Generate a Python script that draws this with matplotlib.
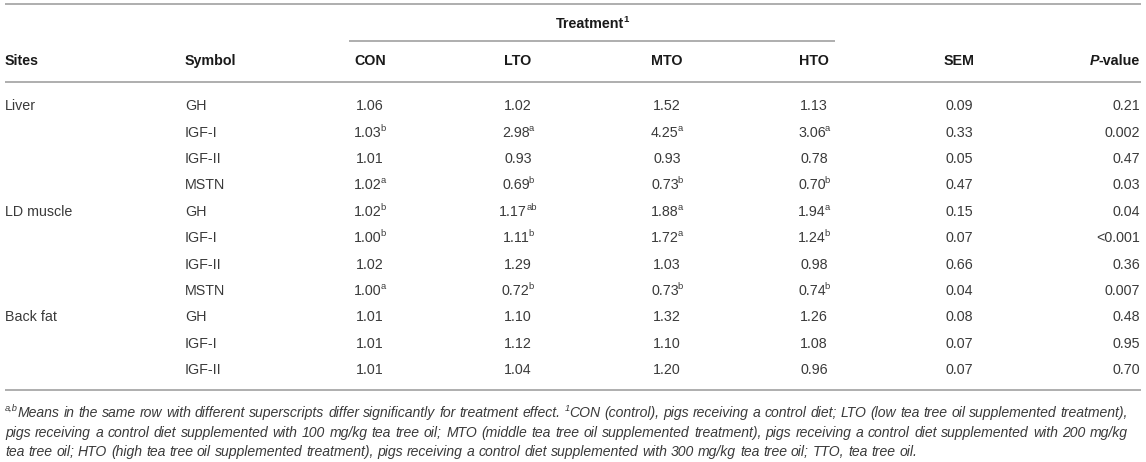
import matplotlib
matplotlib.use('Agg')
import matplotlib.pyplot as plt

# ---------------- data ----------------
sites = ["Liver", "", "", "", "LD muscle", "", "", "", "Back fat", "", ""]
symbols = ["GH", "IGF-I", "IGF-II", "MSTN", "GH", "IGF-I", "IGF-II", "MSTN", "GH", "IGF-I", "IGF-II"]
treatments = ["CON", "LTO", "MTO", "HTO"]
con = [1.06, 1.03, 1.01, 1.02, 1.02, 1.00, 1.02, 1.00, 1.01, 1.01, 1.01]
con_sup = ["", "b", "", "a", "b", "b", "", "a", "", "", ""]
lto = [1.02, 2.98, 0.93, 0.69, 1.17, 1.11, 1.29, 0.72, 1.10, 1.12, 1.04]
lto_sup = ["", "a", "", "b", "ab", "b", "", "b", "", "", ""]
mto = [1.52, 4.25, 0.93, 0.73, 1.88, 1.72, 1.03, 0.73, 1.32, 1.10, 1.20]
mto_sup = ["", "a", "", "b", "a", "a", "", "b", "", "", ""]
hto = [1.13, 3.06, 0.78, 0.70, 1.94, 1.24, 0.98, 0.74, 1.26, 1.08, 0.96]
hto_sup = ["", "a", "", "b", "a", "b", "", "b", "", "", ""]
sem = [0.09, 0.33, 0.05, 0.47, 0.15, 0.07, 0.66, 0.04, 0.08, 0.07, 0.07]
p_values = ["0.21", "0.002", "0.47", "0.03", "0.04", "<0.001", "0.36", "0.007", "0.48", "0.95", "0.70"]

footnote_lines = [
    [("a,b", "Means"), ("", "in"), ("", "the"), ("", "same"), ("", "row"), ("", "with"), ("", "different"),
     ("", "superscripts"), ("", "differ"), ("", "significantly"), ("", "for"), ("", "treatment"),
     ("", "effect."), ("1", "CON"), ("", "(control),"), ("", "pigs"), ("", "receiving"), ("", "a"),
     ("", "control"), ("", "diet;"), ("", "LTO"), ("", "(low"), ("", "tea"), ("", "tree"), ("", "oil"),
     ("", "supplemented"), ("", "treatment),")],
    "pigs receiving a control diet supplemented with 100 mg/kg tea tree oil; MTO (middle tea tree oil "
    "supplemented treatment), pigs receiving a control diet supplemented with 200 mg/kg",
    "tea tree oil; HTO (high tea tree oil supplemented treatment), pigs receiving a control diet "
    "supplemented with 300 mg/kg tea tree oil; TTO, tea tree oil.",
]

# ---------------- layout ----------------
W, H = 1146, 462
fig = plt.figure(figsize=(W / 100, H / 100), dpi=100)
ax = fig.add_axes([0, 0, 1, 1])
ax.set_xlim(0, W)
ax.set_ylim(H, 0)
ax.axis('off')
renderer = fig.canvas.get_renderer()

FONT = 'Liberation Sans'
PX = 72 / 100.0
MAIN = 14.3 * PX
FOOT = 14.0 * PX
BODY_C = '#3a3a3a'
HEAD_C = '#1a1a1a'
LINE_C = '#a8a8a8'

x_site = 5
x_sym = 185
x_cols = [370, 518, 667, 814]
x_sem = 959
x_p = 1140

y_top = 4
y_treat = 23
y_short = 41
y_head = 60
y_hline = 82
y_row0 = 105
row_h = 26.4
y_bottom = 390
y_foot = [412, 432, 451]


def width_of(t):
    return t.get_window_extent(renderer).width


def rich(x, y, parts, ha='center', size=MAIN, color=BODY_C, weight='normal', style='normal'):
    """parts: list of (text, is_sup, style)"""
    objs = []
    for txt, sup, st in parts:
        fs = size * 0.66 if sup else size
        t = ax.text(0, y - (size * 0.42 / PX if sup else 0), txt, fontsize=fs, family=FONT,
                    color=color, weight=weight, style=st or style, va='baseline', ha='left')
        objs.append((t, sup))
    widths = [width_of(t) - (1.0 if sup else 0) for t, sup in objs]
    total = sum(widths)
    if ha == 'center':
        x0 = x - total / 2
    elif ha == 'right':
        x0 = x - total
    else:
        x0 = x
    for (t, sup), w in zip(objs, widths):
        t.set_x(x0 - (1.0 if sup else 0))
        x0 += w
    return total


def base(yc, size=MAIN):
    # convert visual center to baseline
    return yc + size / PX * 0.36


# lines
for (x0, x1, yy) in [(5, 1141, y_top), (349, 835, y_short), (5, 1141, y_hline), (5, 1141, y_bottom)]:
    ax.plot([x0, x1], [yy, yy], color=LINE_C, lw=1.3, solid_capstyle='butt')

# header
rich(592, base(y_treat), [("Treatment", False, None), ("1", True, None)], ha='center',
     color=HEAD_C, weight='bold')
rich(x_site, base(y_head), [("Sites", False, None)], ha='left', color=HEAD_C, weight='bold')
rich(x_sym, base(y_head), [("Symbol", False, None)], ha='left', color=HEAD_C, weight='bold')
for xc, name in zip(x_cols, treatments):
    rich(xc, base(y_head), [(name, False, None)], ha='center', color=HEAD_C, weight='bold')
rich(x_sem, base(y_head), [("SEM", False, None)], ha='center', color=HEAD_C, weight='bold')
rich(x_p, base(y_head), [("P", False, 'italic'), ("-value", False, None)], ha='right',
     color=HEAD_C, weight='bold')

# body
vals = [con, lto, mto, hto]
sups = [con_sup, lto_sup, mto_sup, hto_sup]
for i in range(len(symbols)):
    yb = base(y_row0 + i * row_h)
    if sites[i]:
        rich(x_site, yb, [(sites[i], False, None)], ha='left')
    rich(x_sym, yb, [(symbols[i], False, None)], ha='left')
    for xc, v, s in zip(x_cols, vals, sups):
        parts = [(f"{v[i]:.2f}", False, None)]
        if s[i]:
            parts.append((s[i], True, None))
        rich(xc, yb, parts, ha='center')
    rich(x_sem, yb, [(f"{sem[i]:.2f}", False, None)], ha='center')
    rich(x_p, yb, [(p_values[i], False, None)], ha='right')


# footnote (justified)
def words_of(line):
    if isinstance(line, str):
        return [("", w) for w in line.split(" ")]
    return line


space = width_of(ax.text(0, 0, "a a", fontsize=FOOT, family=FONT, style='italic', alpha=0)) - \
    width_of(ax.text(0, 0, "aa", fontsize=FOOT, family=FONT, style='italic', alpha=0))

for li, line in enumerate(footnote_lines):
    yb = base(y_foot[li], FOOT)
    words = words_of(line)
    groups = []
    for sup, w in words:
        objs = []
        if sup:
            objs.append(ax.text(0, yb - FOOT * 0.42 / PX, sup, fontsize=FOOT * 0.66, family=FONT,
                                style='italic', color=BODY_C, va='baseline', ha='left'))
        objs.append(ax.text(0, yb, w, fontsize=FOOT, family=FONT, style='italic', color=BODY_C,
                            va='baseline', ha='left'))
        ws = [width_of(o) for o in objs]
        groups.append((objs, ws))
    total = sum(sum(ws) for _, ws in groups)
    if li < 2:
        gap = (1128 - x_site - total) / (len(groups) - 1)
    else:
        gap = space
    x = x_site
    for objs, ws in groups:
        for o, w in zip(objs, ws):
            o.set_x(x)
            x += w
        x += gap

fig.savefig('out.png', dpi=100)
